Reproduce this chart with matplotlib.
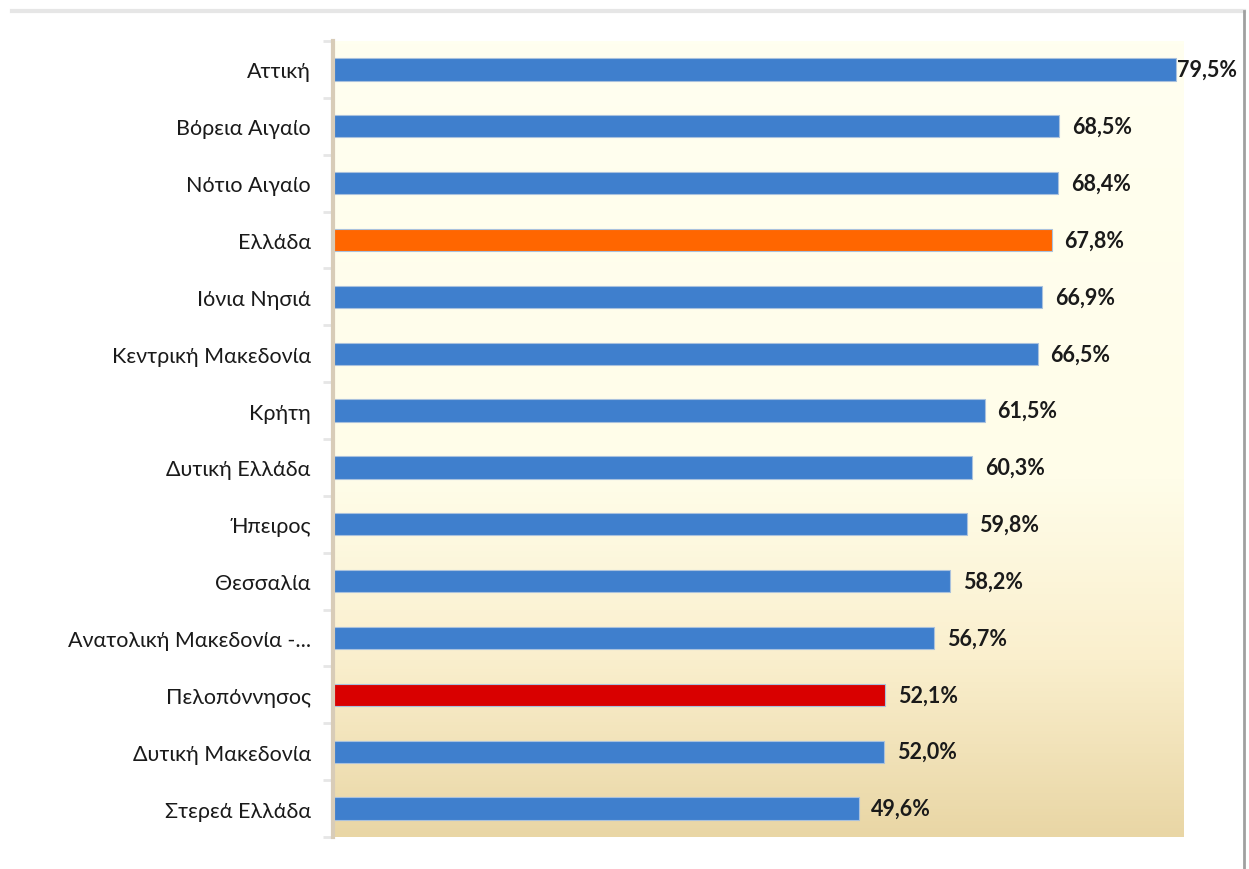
import matplotlib
matplotlib.use('Agg')
import matplotlib.pyplot as plt
import numpy as np
from matplotlib.colors import LinearSegmentedColormap
from matplotlib.lines import Line2D

regions = ['Αττική', 'Βόρεια Αιγαίο', 'Νότιο Αιγαίο', 'Ελλάδα', 'Ιόνια Νησιά',
           'Κεντρική Μακεδονία', 'Κρήτη', 'Δυτική Ελλάδα', 'Ήπειρος', 'Θεσσαλία',
           'Ανατολική Μακεδονία -...', 'Πελοπόννησος', 'Δυτική Μακεδονία', 'Στερεά Ελλάδα']
values = [79.5, 68.5, 68.4, 67.8, 66.9, 66.5, 61.5, 60.3, 59.8, 58.2, 56.7, 52.1, 52.0, 49.6]
labels = ['79,5%', '68,5%', '68,4%', '67,8%', '66,9%', '66,5%', '61,5%', '60,3%',
          '59,8%', '58,2%', '56,7%', '52,1%', '52,0%', '49,6%']

blue = '#3F7FCD'
colors = [blue] * len(regions)
colors[regions.index('Ελλάδα')] = '#FF6600'
colors[regions.index('Πελοπόννησος')] = '#D90000'

plt.rcParams['font.family'] = ['Lato', 'DejaVu Sans']

fig = plt.figure(figsize=(12.49, 8.7), dpi=100)
ax = fig.add_axes([0.2666, 0.0368, 0.6806, 0.9149])

# background gradient of the plot area (ivory at top, tan at bottom)
cmap = LinearSegmentedColormap.from_list(
    'bg', [(0, '#FFFFF0'), (0.55, '#FFFDE9'), (0.78, '#FAEFCD'), (1, '#E9D6A5')])
grad = np.linspace(0, 1, 256).reshape(-1, 1)
ax.imshow(grad, cmap=cmap, aspect='auto', extent=[0, 1, 0, 1],
          transform=ax.transAxes, zorder=0)

y = np.arange(len(regions))
ax.barh(y, values, height=0.39, color=colors, edgecolor='#A9C1DD',
        linewidth=0.8, zorder=2)

for i, (v, lab) in enumerate(zip(values, labels)):
    off = 0.1 if i == 0 else 1.2
    ax.text(v + off, i, lab, va='center', ha='left', fontsize=15.5,
            fontweight='bold', color='#1A1A1A', clip_on=False, zorder=3)

ax.set_xlim(0, 80.2)
ax.set_ylim(len(regions) - 0.5, -0.5)
ax.set_yticks(y)
ax.set_yticklabels(regions, fontsize=15.5, color='#1A1A1A')
ax.tick_params(axis='y', length=0, pad=16)
ax.set_yticks(np.arange(-0.5, len(regions), 1), minor=True)
ax.tick_params(axis='y', which='minor', length=7, width=2, color='#E6E6E6')
ax.set_xticks([])

for s in ['top', 'right', 'bottom']:
    ax.spines[s].set_visible(False)
ax.spines['left'].set_color('#D8CCB8')
ax.spines['left'].set_linewidth(3)

# frame lines of the chart area
fig.add_artist(Line2D([12 / 1249, 1244 / 1249], [1 - 12 / 870, 1 - 12 / 870],
                      color='#E6E6E6', linewidth=3, transform=fig.transFigure))
fig.add_artist(Line2D([1244 / 1249, 1244 / 1249], [0, 1 - 12 / 870],
                      color='#A0A0A0', linewidth=2, transform=fig.transFigure))

fig.savefig('out.png', dpi=100)
